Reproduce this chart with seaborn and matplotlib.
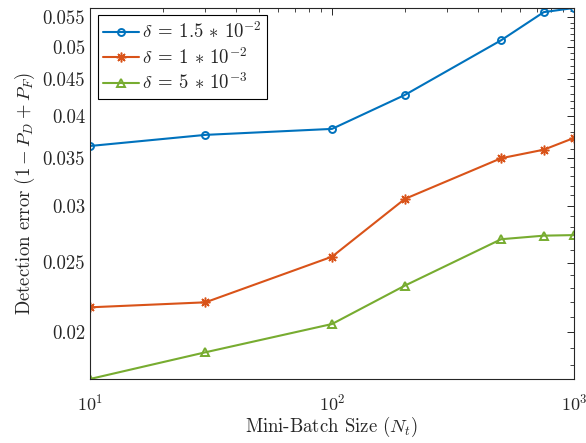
import numpy as np
import pandas as pd
import matplotlib
matplotlib.use("Agg")
import matplotlib.pyplot as plt
import matplotlib.ticker as mticker
import seaborn as sns

# mini-batch sizes and detection error for three delta values
batch_sizes = [10, 30, 100, 200, 500, 750, 1000]
err_delta_15e3 = [0.03634, 0.03766, 0.03839, 0.04281, 0.05103, 0.05585, 0.0566]
err_delta_1e2 = [0.02165, 0.02200, 0.02547, 0.03066, 0.03494, 0.03591, 0.03729]
err_delta_5e3 = [0.0172, 0.01874, 0.02052, 0.02321, 0.02694, 0.02725, 0.02730]

series_labels = [r'$\delta\:=\:1.5\,\ast\,10^{-2}$',
                 r'$\delta\:=\:1\,\ast\,10^{-2}$',
                 r'$\delta\:=\:5\,\ast\,10^{-3}$']
series_values = [err_delta_15e3, err_delta_1e2, err_delta_5e3]
series_colors = ['#0072BD', '#D95319', '#77AC30']
series_markers = ['o', (8, 2, 0), '^']
marker_sizes = [5, 7, 5.5]
marker_widths = [1.4, 1.1, 1.4]

y_ticks = [0.02, 0.025, 0.03, 0.035, 0.04, 0.045, 0.05, 0.055]

sns.set_style("white")
plt.rcParams['font.family'] = 'serif'
plt.rcParams['font.serif'] = ['cmr10', 'DejaVu Serif']
plt.rcParams['mathtext.fontset'] = 'cm'
plt.rcParams['axes.formatter.use_mathtext'] = True
plt.rcParams['axes.unicode_minus'] = False

fig = plt.figure(figsize=(5.86, 4.43), dpi=100)
ax = fig.add_axes([0.1536, 0.1445, 0.8259, 0.8375])

for label, vals, color, marker, ms, mw in zip(series_labels, series_values, series_colors,
                                              series_markers, marker_sizes, marker_widths):
    df = pd.DataFrame({'Nt': batch_sizes, 'err': vals})
    sns.lineplot(data=df, x='Nt', y='err', ax=ax, color=color, label=label,
                 marker=marker, markersize=ms, markerfacecolor='none',
                 markeredgecolor=color, markeredgewidth=mw, linewidth=1.5)

ax.set_xscale('log')
ax.set_yscale('log')
ax.set_xlim(min(batch_sizes), max(batch_sizes))
ax.set_ylim(min(err_delta_5e3), max(err_delta_15e3))

ax.xaxis.set_major_locator(mticker.LogLocator(base=10))
ax.xaxis.set_major_formatter(mticker.LogFormatterSciNotation())
ax.xaxis.set_minor_locator(mticker.LogLocator(base=10, subs=np.arange(2, 10)))
ax.xaxis.set_minor_formatter(mticker.NullFormatter())

ax.yaxis.set_major_locator(mticker.FixedLocator(y_ticks))
ax.yaxis.set_major_formatter(mticker.FuncFormatter(lambda v, p: f'{v:g}'))
ax.yaxis.set_minor_locator(mticker.FixedLocator(np.arange(0.017, 0.057, 0.001)))
ax.yaxis.set_minor_formatter(mticker.NullFormatter())

axis_col = '#262626'
for s in ax.spines.values():
    s.set_color(axis_col)
    s.set_linewidth(0.8)
ax.tick_params(which='both', direction='in', top=True, right=True,
               colors=axis_col, labelsize=13.5)
ax.tick_params(which='major', length=5, width=0.7)
ax.tick_params(which='minor', length=3, width=0.6)
ax.tick_params(axis='x', which='major', pad=10, labelsize=13)

ax.set_xlabel(r'Mini-Batch Size $(N_t)$', fontsize=13.5, color=axis_col, labelpad=1)
ax.set_ylabel(r'Detection error $(1 - P_D + P_F)$', fontsize=13.5, color=axis_col)

leg = ax.legend(loc='upper left', fontsize=13.5, frameon=True, fancybox=False,
                edgecolor='black', framealpha=1, handlelength=1.9,
                borderpad=0.3, labelspacing=0.25, handletextpad=0.15,
                borderaxespad=0.4)
leg.get_frame().set_linewidth(0.8)

fig.savefig('out.png', dpi=100)
